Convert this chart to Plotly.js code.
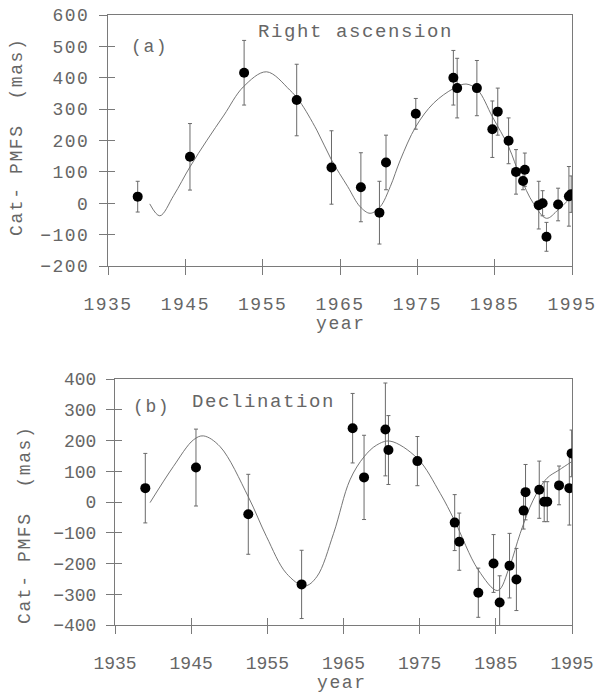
<!DOCTYPE html>
<html>
<head>
<meta charset="utf-8">
<script src="https://cdn.plot.ly/plotly-3.0.1.min.js"></script>
<style>
  html, body { margin: 0; padding: 0; background: #fff; }
  #chart { width: 600px; height: 692px; }
  .xtick text, .ytick text { letter-spacing: 1.5px; }
  .annotation-text { letter-spacing: 1.6px; }
</style>
</head>
<body>
<div id="chart"></div>
<script>
// ---------- Data: panel (a) Right ascension ----------
const raYear = [1938.84, 1945.6, 1952.6, 1959.4, 1963.9, 1967.7, 1970.1, 1970.95, 1974.8, 1979.66, 1980.15, 1982.7, 1984.7, 1985.4, 1986.8, 1987.76, 1988.67, 1988.9, 1990.7, 1991.2, 1991.7, 1993.2, 1994.6, 1994.9];
const raVal  = [21, 148, 416, 329, 114, 51, -30, 130, 285, 400, 367, 367, 236, 292, 199, 100, 71, 107, -6, 0, -107, -4, 22, 29];
const raErr  = [49, 106, 103, 114, 117, 110, 100, 87, 49, 87, 95, 88, 90, 75, 73, 71, 28, 53, 76, 40, 46, 52, 95, 58];

const raCurveX = [1940.4, 1941.7, 1943.5, 1945.6, 1947.8, 1950.0, 1952.5, 1955.5, 1958.5, 1959.8, 1962.0, 1963.9, 1966.0, 1967.6, 1968.9, 1970.2, 1971.5, 1972.8, 1974.8, 1977.1, 1979.7, 1981.3, 1982.8, 1984.7, 1986.8, 1988.3, 1990.0, 1991.7, 1993.2, 1994.95];
const raCurveY = [-2, -40, 25, 116, 201, 281, 371, 419, 361, 324, 233, 138, 53, -11, -32, -11, 53, 138, 244, 319, 366, 380, 361, 276, 180, 85, 0, -48, -21, 21];

// ---------- Data: panel (b) Declination ----------
const decYear = [1938.98, 1945.63, 1952.5, 1959.5, 1966.2, 1967.7, 1970.5, 1970.9, 1974.7, 1979.6, 1980.2, 1982.7, 1984.7, 1985.5, 1986.8, 1987.7, 1988.65, 1988.9, 1990.7, 1991.35, 1991.75, 1993.3, 1994.65, 1994.95];
const decVal  = [45, 112, -40, -268, 240, 80, 236, 169, 133, -67, -129, -295, -200, -327, -207, -252, -28, 32, 40, 1, 1, 54, 45, 158];
const decErr  = [113, 125, 130, 111, 113, 137, 151, 112, 80, 91, 93, 80, 94, 87, 105, 101, 60, 90, 93, 65, 65, 63, 120, 76];

const decCurveX = [1939.6, 1942.65, 1945.3, 1946.6, 1948.8, 1952.5, 1954.9, 1957.5, 1959.9, 1961.5, 1963.7, 1965.85, 1967.7, 1969.35, 1971.1, 1974.7, 1977.7, 1979.55, 1982.7, 1985.25, 1986.8, 1988.2, 1989.9, 1991.7, 1993.3, 1994.95];
const decCurveY = [-2, 115, 202, 215, 180, 17, -113, -232, -273, -243, -102, 72, 147, 185, 198, 142, 28, -59, -221, -288, -210, -102, 6, 77, 104, 131];

// ---------- Axis ticks / labels ----------
const yearTicks = [1935, 1945, 1955, 1965, 1975, 1985, 1995];
const raTicks = [-200, -100, 0, 100, 200, 300, 400, 500, 600];
const decTicks = [-400, -300, -200, -100, 0, 100, 200, 300, 400];
const yTitle = 'Cat-\u00a0PMFS\u00a0\u00a0(mas)';
const xTitle = 'year';
const labelA = '(a)', nameA = 'Right ascension';
const labelB = '(b)', nameB = 'Declination';

const W = 600, H = 692;
const px = v => v / W;
const py = v => 1 - v / H;

const FONT = 'Liberation Mono, Courier New, DejaVu Sans Mono, monospace';
const TXT = '#666';
const LINE = '#7a7a7a';

const curveStyle = {color: '#666', width: 0.9, shape: 'spline', smoothing: 1};
const markerStyle = {color: '#000', size: 10};
const errStyle = e => ({type: 'data', array: e, visible: true, color: '#6a6a6a', thickness: 1, width: 2});

const traces = [
  // curves on the base subplots (outer tick halves)
  {x: raCurveX, y: raCurveY, mode: 'lines', line: curveStyle, xaxis: 'x', yaxis: 'y', hoverinfo: 'skip'},
  {x: decCurveX, y: decCurveY, mode: 'lines', line: curveStyle, xaxis: 'x2', yaxis: 'y2', hoverinfo: 'skip'},
  // data points on overlay subplots (inner tick halves)
  {x: raYear, y: raVal, mode: 'markers', marker: markerStyle, error_y: errStyle(raErr), xaxis: 'x3', yaxis: 'y3'},
  {x: decYear, y: decVal, mode: 'markers', marker: markerStyle, error_y: errStyle(decErr), xaxis: 'x4', yaxis: 'y4'}
];

const tickFont = {family: FONT, size: 18, color: TXT};

function xMain(domain, anchor) {
  return {domain: domain, anchor: anchor, range: [1935, 1995], tickvals: yearTicks, ticks: 'outside', ticklen: 8,
    tickcolor: LINE, tickwidth: 1, showline: true, linecolor: LINE, linewidth: 1, mirror: true,
    showgrid: false, zeroline: false, tickfont: tickFont, ticklabelstandoff: 13, automargin: false, fixedrange: true};
}
function yMain(domain, anchor, range, ticks) {
  return {domain: domain, anchor: anchor, range: range, tickvals: ticks, ticks: 'outside', ticklen: 8,
    tickcolor: LINE, tickwidth: 1, showline: true, linecolor: LINE, linewidth: 1, mirror: true,
    showgrid: false, zeroline: false, tickfont: tickFont, ticklabelstandoff: 6, automargin: false, fixedrange: true};
}
function xInner(over, anchor) {
  return {overlaying: over, anchor: anchor, range: [1935, 1995], tickvals: yearTicks, ticks: 'inside', ticklen: 7,
    tickcolor: LINE, tickwidth: 1, showline: false, showgrid: false, zeroline: false, showticklabels: false, fixedrange: true};
}
function yInner(over, anchor, range, ticks) {
  return {overlaying: over, anchor: anchor, range: range, tickvals: ticks, ticks: 'inside', ticklen: 7,
    tickcolor: LINE, tickwidth: 1, showline: false, showgrid: false, zeroline: false, showticklabels: false, fixedrange: true};
}

const ann = (text, x, y, size, opts) => Object.assign({text: text, x: px(x), y: py(y), xref: 'paper', yref: 'paper',
  showarrow: false, xanchor: 'center', yanchor: 'middle', font: {family: FONT, size: size, color: TXT}}, opts || {});

const layout = {
  width: W, height: H,
  margin: {l: 0, r: 0, t: 0, b: 0},
  paper_bgcolor: '#fff', plot_bgcolor: '#fff',
  showlegend: false,
  xaxis: xMain([px(108), px(572)], 'y'),
  yaxis: yMain([py(266), py(15)], 'x', [-200, 600], raTicks),
  xaxis2: xMain([px(115), px(572)], 'y2'),
  yaxis2: yMain([py(625), py(379)], 'x2', [-400, 400], decTicks),
  xaxis3: xInner('x', 'y3'),
  yaxis3: yInner('y', 'x3', [-200, 600], raTicks),
  xaxis4: xInner('x2', 'y4'),
  yaxis4: yInner('y2', 'x4', [-400, 400], decTicks),
  annotations: [
    ann(labelA, 0, 47, 18, {xanchor: 'left', x: px(129)}),
    ann(nameA, 0, 32, 19, {xanchor: 'left', x: px(256)}),
    ann(labelB, 0, 407, 18, {xanchor: 'left', x: px(131)}),
    ann(nameB, 0, 402, 19, {xanchor: 'left', x: px(190)}),
    ann(yTitle, 17, 137, 18, {textangle: -90}),
    ann(yTitle, 25, 525, 18, {textangle: -90}),
    ann(xTitle, 341, 324, 18),
    ann(xTitle, 342, 683, 18)
  ]
};

Plotly.newPlot('chart', traces, layout, {displayModeBar: false, staticPlot: true});
</script>
</body>
</html>
